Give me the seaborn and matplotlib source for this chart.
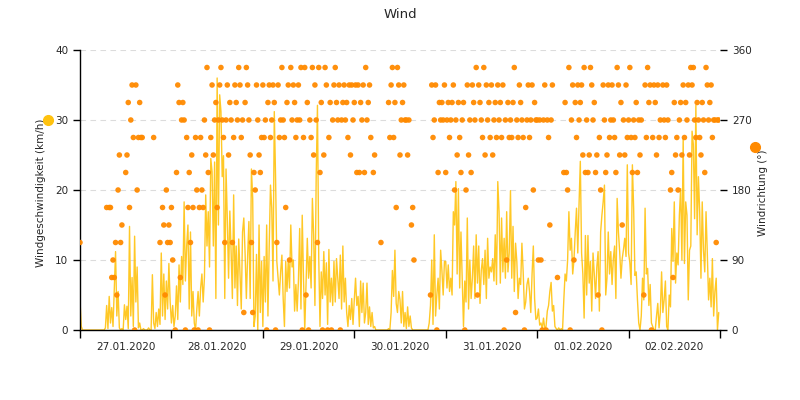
import numpy as np
import pandas as pd
import matplotlib
matplotlib.use("Agg")
import matplotlib.pyplot as plt
import matplotlib.dates as mdates
from matplotlib.lines import Line2D
import seaborn as sns

N = np.nan

# wind speed (km/h), one value every 20 minutes, one list per day
speed_27 = [4.2, 0.5, 0, 0, 0, 0, 0, 0, 0, 0, 0, 0, 0, 0, 0, 0, 0, 0,
            0, 0, 0.3, 3.5, 0.2, 4.8, 1.0, 3.2, 0.5, 6.0, 11.2, 2.0, 5.5, 0.3, 0.0, 0.2, 0.0, 3.6,
            1.5, 3.4, 0.2, 14.8, 2.0, 7.5, 0.5, 13.4, 4.0, 9.0, 0.3, 1.0, 0, 0, 0.2, 0, 0, 0,
            0.3, 0, 0, 7.9, 1.0, 0.2, 2.5, 0.5, 3.0, 0.8, 11.0, 2.0, 8.0, 1.5, 7.0, 3.0, 9.5, 4.0]
speed_28 = [1.0, 3.5, 0.5, 2.0, 6.3, 1.5, 9.3, 4.0, 10.5, 6.5, 18.3, 7.0, 12.0, 15.0, 3.0, 14.0, 2.0, 5.5,
            1.0, 0.0, 3.0, 5.5, 2.0, 6.0, 8.0, 4.0, 7.5, 19.3, 12.0, 16.9, 9.0, 24.5, 22.6, 12.0, 24.0, 4.5,
            36.0, 15.0, 33.6, 31.2, 21.9, 24.9, 4.5, 23.0, 15.9, 7.4, 17.0, 11.2, 4.5, 19.3, 6.0, 12.0, 3.5, 13.0,
            8.0, 3.0, 14.0, 16.0, 11.0, 4.5, 10.5, 15.5, 4.5, 23.0, 18.8, 0.5, 2.0, 10.8, 0.0, 15.0, 2.5, 9.8]
speed_29 = [0.5, 10.5, 4.0, 15.0, 2.0, 12.0, 20.7, 17.4, 7.0, 31.2, 21.9, 9.8, 7.4, 5.0, 8.3, 10.7, 4.5, 0.5,
            9.8, 5.5, 10.0, 6.0, 15.0, 9.0, 10.0, 2.7, 6.5, 2.7, 7.0, 14.5, 3.0, 16.4, 7.4, 0.0, 6.5, 13.1,
            7.4, 10.5, 6.0, 18.8, 13.6, 3.5, 21.9, 32.1, 10.5, 0.5, 8.3, 4.5, 11.2, 5.0, 9.6, 0.8, 11.5, 4.0,
            7.4, 3.5, 9.8, 4.0, 10.2, 7.4, 4.5, 10.7, 3.0, 12.0, 4.0, 7.4, 2.5, 0.5, 3.5, 1.5, 4.5, 0.8]
speed_30 = [4.3, 7.4, 3.5, 4.8, 0.5, 7.0, 2.5, 6.7, 1.0, 2.5, 6.7, 0.8, 3.3, 0.5, 2.5, 0.3, 0.5, 0.0,
            0, 0, 0, 0, 0, 0, 0, 0, 0, 0.2, 0, 2.5, 8.5, 4.8, 11.4, 3.8, 2.5, 5.5,
            4.3, 1.0, 5.5, 0.5, 2.5, 0.2, 3.3, 0.5, 2.0, 0.3, 0, 0, 0, 0, 0, 0, 0, 0,
            0, 0, 0, 0, 0, 1.0, 3.5, 10.0, 0.8, 13.6, 2.0, 5.0, 7.4, 3.0, 11.4, 8.5, 5.0, 9.8]
speed_31 = [9.8, 6.0, 9.3, 5.5, 7.4, 5.0, 16.9, 15.0, 21.2, 8.0, 20.2, 6.0, 14.0, 7.4, 0.5, 7.0, 4.0, 16.0,
            3.0, 10.0, 4.5, 7.4, 12.0, 4.5, 13.6, 6.7, 12.0, 3.8, 8.5, 10.2, 6.5, 11.4, 4.5, 13.1, 7.4, 9.0,
            8.3, 10.2, 7.0, 13.6, 6.5, 21.2, 16.9, 6.7, 16.0, 8.3, 13.1, 7.4, 16.9, 8.3, 11.0, 19.9, 7.4, 14.8,
            5.5, 12.4, 9.8, 4.5, 7.4, 6.5, 12.4, 8.3, 3.0, 4.0, 6.5, 7.4, 5.5, 2.5, 8.0, 12.0, 4.5, 1.5]
speed_01 = [1.7, 3.0, 0.7, 1.0, 0.2, 1.7, 0.2, 0.5, 2.7, 3.5, 5.5, 6.8, 2.7, 3.5, 0.5, 0.2, 0.0, 0.3,
            0.0, 0.2, 0.0, 4.3, 8.0, 7.0, 10.0, 16.9, 11.4, 13.1, 8.0, 10.0, 14.0, 17.4, 11.0, 18.0, 24.1, 11.0,
            8.0, 1.7, 13.5, 5.0, 13.5, 6.7, 9.8, 2.7, 11.0, 8.0, 4.5, 9.0, 11.2, 2.7, 14.0, 16.4, 18.3, 20.7,
            5.0, 7.4, 14.0, 8.0, 11.2, 6.5, 10.2, 12.0, 4.5, 18.8, 14.0, 11.2, 7.4, 10.2, 11.5, 13.1, 10.5, 23.6]
speed_02 = [11.0, 9.6, 6.5, 23.6, 17.4, 7.8, 8.3, 4.3, 1.0, 0.0, 2.0, 7.4, 4.3, 17.4, 8.0, 8.8, 3.5, 6.5,
            1.0, 0.5, 0.0, 0.0, 2.0, 3.8, 0.3, 2.5, 8.3, 2.5, 4.3, 7.0, 0.5, 0.0, 5.0, 3.3, 14.5, 9.8,
            18.3, 6.7, 11.0, 9.3, 16.4, 20.2, 10.0, 27.4, 9.5, 18.3, 16.4, 4.3, 11.4, 12.0, 28.4, 26.5, 15.9, 32.1,
            13.6, 21.9, 16.9, 7.4, 18.3, 11.4, 8.3, 16.9, 11.0, 4.3, 7.4, 3.3, 10.2, 2.0, 5.5, 7.4, 0.0, 2.5]

# wind direction (degrees), same time steps, N = no reading
dir_27 = [112.5, N, N] + [N] * 18 + [
          157.5, N, 157.5, 157.5, 67.5, 90, 67.5, 112.5, 45, 180, 225, 112.5, 135, N, N,
          202.5, 225, 292.5, 157.5, 270, 315, 247.5, 0, 315, 180, 247.5, 292.5, 247.5, 247.5, N,
          N, N, N, N, N, N, N, 247.5, N, N, N, N, 112.5, N, 157.5, 135, 45, 180, 112.5, 135, 112.5]
dir_28 = [157.5, 90, N, 0, 202.5, 315, 292.5, 67.5, 270, 292.5, 270, 0, 247.5, 157.5, 202.5, 112.5, 225, 157.5,
          0, 247.5, 180, 0, 157.5, 247.5, 180, 157.5, 270, 225, 337.5, 202.5, 0, 247.5, 315, 225, 270, 292.5,
          157.5, 270, 315, 337.5, 270, 247.5, 112.5, 270, 315, 225, 292.5, 270, 112.5, 247.5, 315, 292.5, 270, 337.5,
          315, 247.5, 270, 22.5, 292.5, 337.5, 315, 270, 225, 112.5, 22.5, 202.5, 180, 315, 270, 225, 202.5, 247.5]
dir_29 = [315, 247.5, 270, 0, 292.5, 315, 247.5, 270, 315, 292.5, 0, 112.5, 315, 247.5, 270, 337.5, 270, 247.5,
          157.5, 292.5, 315, 90, 337.5, 270, 315, 292.5, 247.5, 270, 315, 270, 337.5, 0, 247.5, 337.5, 45, 292.5,
          0, 270, 247.5, 337.5, 225, 315, 270, 112.5, 337.5, 202.5, 292.5, 0, 225, 337.5, 315, 0, 247.5, 292.5,
          0, 270, 315, 337.5, 292.5, 270, 315, 0, 270, 292.5, 315, 270, 292.5, 247.5, 315, 225, 315, 270]
dir_30 = [292.5, 315, 202.5, 315, 202.5, 292.5, 270, 315, 202.5, 337.5, 270, 292.5, 315, 247.5, N, 202.5, 225, N,
          N, N, N, 112.5, N, N, N, N, N, 292.5, 247.5, 315, 337.5, 247.5, 292.5, 157.5, 337.5, 315,
          225, 270, 292.5, 315, 270, 270, 225, 270, N, 135, 157.5, 90, N, N, N, N, N, N,
          N, N, N, N, N, N, 45, 315, 247.5, 270, 315, 0, 202.5, 292.5, 270, 292.5, 270, 315]
dir_31 = [202.5, 270, 292.5, 247.5, 270, 292.5, 315, 180, 270, 225, 292.5, 247.5, 202.5, 270, 292.5, 0, 180, 315,
          225, 270, 202.5, 315, 292.5, 270, 337.5, 45, 315, 292.5, 270, 247.5, 337.5, 225, 315, 270, 292.5, 247.5,
          315, 225, 270, 292.5, 247.5, 315, 270, 292.5, 247.5, 315, 0, 270, 90, 292.5, 247.5, 270, 247.5, 292.5,
          337.5, 22.5, 270, 247.5, 315, 292.5, 270, 247.5, 0, 157.5, 270, 315, 247.5, 270, 315, 180, 292.5, 270]
dir_01 = [270, 90, 270, 90, 0, 270, 315, 0, 270, 247.5, 135, 270, 315, N, N, N, 67.5, N,
          N, N, N, 202.5, 292.5, 202.5, 180, 337.5, 0, 270, 315, 90, 292.5, 247.5, 315, 270, 292.5, 315,
          225, 337.5, 202.5, 270, 202.5, 225, 337.5, 315, 270, 292.5, 202.5, 225, 45, 247.5, 180, 0, 315, 270,
          202.5, 225, 315, 247.5, 270, 315, 270, 247.5, 202.5, 337.5, 315, 225, 292.5, 135, 270, 225, 315, 247.5]
dir_02 = [270, 337.5, 247.5, 202.5, 270, 247.5, 292.5, 202.5, 270, 225, 270, N, 45, 315, 247.5, 337.5, 292.5, 315,
          0, 247.5, 315, 292.5, 225, 315, 247.5, 270, N, 315, 270, 247.5, 315, 270, N, 180, 202.5, 67.5,
          292.5, 225, 247.5, 180, 270, 292.5, 225, 315, 247.5, 292.5, 270, 315, 225, 337.5, 315, 337.5, 270, 247.5,
          292.5, 270, 247.5, 225, 292.5, 270, 202.5, 337.5, 315, 270, 292.5, 315, 247.5, 270, 270, 112.5, 270, 270]

speed = speed_27 + speed_28 + speed_29 + speed_30 + speed_31 + speed_01 + speed_02
direction = dir_27 + dir_28 + dir_29 + dir_30 + dir_31 + dir_01 + dir_02
times = pd.date_range("2020-01-27 00:00", periods=len(speed), freq="20min")
df = pd.DataFrame({"Zeit": times, "Speed": speed, "Richtung": direction})

speed_color = "#ffc20e"
dir_color = "#ff8a00"

sns.set_style("white")
plt.rcParams["font.family"] = ["DejaVu Sans"]

fig = plt.figure(figsize=(8, 4), dpi=100)
ax = fig.add_axes([0.1, 0.175, 0.8, 0.7])
ax2 = ax.twinx()

sns.lineplot(data=df, x="Zeit", y="Speed", ax=ax, color=speed_color, lw=1, alpha=0.9)
sns.scatterplot(data=df, x="Zeit", y="Richtung", ax=ax2, color=dir_color, s=16,
                edgecolor="none", alpha=0.95)

ax.set_xlim(pd.Timestamp("2020-01-27"), pd.Timestamp("2020-02-03"))
ax.set_ylim(0, 40)
ax2.set_ylim(0, 360)
ax.set_yticks([0, 10, 20, 30, 40])
ax2.set_yticks([0, 90, 180, 270, 360])

ax.yaxis.grid(True, ls=(0, (5, 4)), color="#dcdcdc", lw=0.8)
ax.xaxis.grid(False)
ax.set_axisbelow(True)

for s in ["top", "right"]:
    ax.spines[s].set_visible(False)
for s in ax2.spines:
    ax2.spines[s].set_visible(False)
for s in ["left", "bottom"]:
    ax.spines[s].set_color("black")
    ax.spines[s].set_linewidth(1)

ax.xaxis.set_major_locator(mdates.DayLocator())
ax.xaxis.set_major_formatter(plt.NullFormatter())
ax.xaxis.set_minor_locator(mdates.HourLocator(byhour=12))
ax.xaxis.set_minor_formatter(mdates.DateFormatter("%d.%m.%Y"))
ax.tick_params(axis="x", which="major", length=6, width=1, color="black", direction="out", bottom=True)
ax.tick_params(axis="x", which="minor", length=0, pad=9, labelsize=7.5, bottom=True)
ax.tick_params(axis="y", length=5, width=1, color="black", direction="out", left=True, labelsize=7.5)
ax2.tick_params(axis="y", length=5, width=1, color="black", direction="out", right=True, labelsize=7.5)

ax.set_xlabel("")
ax.set_ylabel("Windgeschwindigkeit (km/h)", fontsize=7.5)
ax.yaxis.set_label_coords(-0.053, 0.49)
ax2.set_ylabel("Windrichtung (°)", fontsize=7.5)
ax2.yaxis.set_label_coords(1.059, 0.49)

fig.text(0.5, 1 - 15 / 400, "Wind", ha="center", va="center", fontsize=9.5)

# legend dots next to the axis titles
fig.add_artist(Line2D([48 / 800], [1 - 120 / 400], marker="o", ms=7, color=speed_color,
                      transform=fig.transFigure, lw=0))
fig.add_artist(Line2D([755 / 800], [1 - 147 / 400], marker="o", ms=7, color=dir_color,
                      transform=fig.transFigure, lw=0))

fig.savefig("out.png", dpi=100)
